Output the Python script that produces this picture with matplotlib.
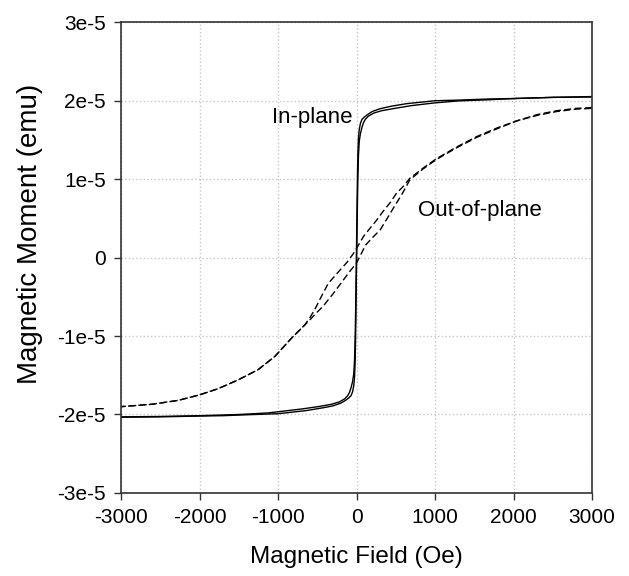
import matplotlib
matplotlib.use("Agg")
import matplotlib.pyplot as plt

plt.rcParams['font.family'] = ['Liberation Sans', 'DejaVu Sans']

# In-plane loop (M in units of 1e-5 emu)
ip_desc_H = [3000, 2500, 2000, 1700, 1300, 1000, 640, 430, 300, 200, 140, 100, 70, 50, 35, 25, 18, 12, 5,
             -3, -10, -17, -25, -35, -50, -70, -90, -112, -150, -220, -320, -490, -700, -1127, -1500,
             -2000, -2500, -3000]
ip_desc_M = [2.05, 2.04, 2.025, 2.02, 2.005, 1.997, 1.96, 1.925, 1.895, 1.86, 1.82, 1.79, 1.76, 1.71, 1.63,
             1.52, 1.35, 1.05, 0.5, -0.1, -0.6, -1.0, -1.3, -1.48, -1.58, -1.66, -1.72, -1.76, -1.80, -1.84,
             -1.87, -1.90, -1.93, -1.98, -2.0, -2.015, -2.025, -2.03]
ip_asc_H = [-3000, -2500, -2000, -1700, -1300, -1000, -640, -430, -300, -200, -140, -100, -70, -50, -35, -25,
            -18, -12, -5, 3, 10, 17, 25, 35, 50, 70, 90, 112, 150, 220, 320, 490, 700, 1000, 1300, 1700,
            2000, 2500, 3000]
ip_asc_M = [-2.035, -2.03, -2.02, -2.015, -2.0, -1.99, -1.95, -1.915, -1.89, -1.855, -1.82, -1.79, -1.76,
            -1.71, -1.63, -1.52, -1.35, -1.05, -0.5, 0.1, 0.6, 1.0, 1.3, 1.48, 1.58, 1.66, 1.72, 1.76, 1.80,
            1.84, 1.87, 1.90, 1.935, 1.97, 1.995, 2.01, 2.025, 2.04, 2.045]

# Out-of-plane loop
op_desc_H = [3000, 2800, 2550, 2300, 2040, 1790, 1530, 1280, 1020, 850, 680, 590, 510, 430, 340, 260, 170,
             90, 20, -40, -120, -210, -290, -360, -460, -525, -590, -660, -830, -1040, -1255, -1510, -1760,
             -2000, -2270, -2610, -3000]
op_desc_M = [1.91, 1.90, 1.87, 1.82, 1.74, 1.65, 1.54, 1.41, 1.26, 1.14, 1.01, 0.90, 0.82, 0.70, 0.59, 0.48,
             0.37, 0.27, 0.15, 0.05, -0.06, -0.16, -0.25, -0.33, -0.52, -0.65, -0.76, -0.86, -1.03, -1.26,
             -1.43, -1.56, -1.67, -1.75, -1.82, -1.87, -1.90]
op_asc_H = [-3000, -2610, -2270, -2000, -1760, -1510, -1255, -1040, -830, -660, -590, -525, -425, -297, -170,
            -80, 0, 117, 210, 300, 380, 470, 575, 680, 850, 1020, 1280, 1530, 1790, 2040, 2300, 2550, 2800,
            3000]
op_asc_M = [-1.90, -1.87, -1.82, -1.75, -1.67, -1.56, -1.43, -1.26, -1.03, -0.86, -0.79, -0.72, -0.62, -0.46,
            -0.29, -0.17, -0.07, 0.16, 0.26, 0.35, 0.48, 0.63, 0.80, 0.99, 1.13, 1.25, 1.40, 1.53, 1.64, 1.74,
            1.81, 1.86, 1.89, 1.90]

x_ticks = [-3000, -2000, -1000, 0, 1000, 2000, 3000]
x_ticklabels = ['-3000', '-2000', '-1000', '0', '1000', '2000', '3000']
y_ticks = [-3, -2, -1, 0, 1, 2, 3]
y_ticklabels = ['-3e-5', '-2e-5', '-1e-5', '0', '1e-5', '2e-5', '3e-5']

fig = plt.figure(figsize=(6.29, 5.76), dpi=100)
ax = fig.add_axes([0.1924, 0.1441, 0.7488, 0.8177])

ax.plot(ip_desc_H, ip_desc_M, color='black', lw=1.0)
ax.plot(ip_asc_H, ip_asc_M, color='black', lw=1.0)
ax.plot(op_desc_H, op_desc_M, color='black', lw=1.0, linestyle=(0, (5, 2.5)))
ax.plot(op_asc_H, op_asc_M, color='black', lw=1.0, linestyle=(2.5, (5, 2.5)))

ax.set_xlim(-3000, 3000)
ax.set_ylim(-3, 3)
ax.set_xticks(x_ticks)
ax.set_xticklabels(x_ticklabels)
ax.set_yticks(y_ticks)
ax.set_yticklabels(y_ticklabels)
ax.grid(True, color='#c8c8c8', linestyle=':', linewidth=1.0)
ax.set_axisbelow(True)
for s in ax.spines.values():
    s.set_color('#333333')
    s.set_linewidth(1.2)
ax.tick_params(direction='out', length=5, width=1.0, color='#333333', labelsize=15, pad=6)

ax.set_xlabel('Magnetic Field (Oe)', fontsize=17.5)
ax.set_ylabel('Magnetic Moment (emu)', fontsize=20)
ax.xaxis.set_label_coords(0.5, -0.112)
ax.yaxis.set_label_coords(-0.165, 0.55)

ax.text(-1080, 1.78, 'In-plane', fontsize=16, ha='left', va='center')
ax.text(780, 0.6, 'Out-of-plane', fontsize=16, ha='left', va='center')

fig.savefig('out.png', dpi=100)
